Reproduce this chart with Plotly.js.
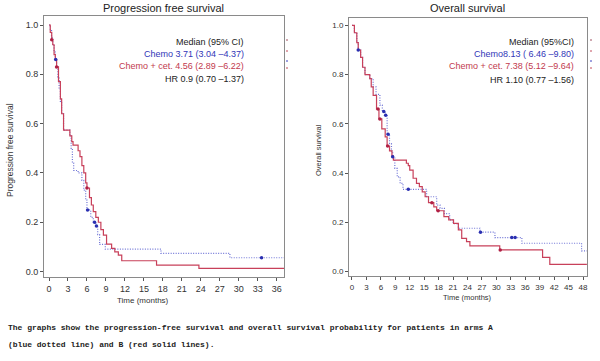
<!DOCTYPE html>
<html>
<head>
<meta charset="utf-8">
<script src="https://cdn.plot.ly/plotly-3.0.1.min.js"></script>
<style>html,body{margin:0;padding:0;background:#fff;}#chart{width:600px;height:361px;}</style>
</head>
<body>
<div id="chart"></div>
<script>
// ---- Progression free survival ----
var pfsChemoT = [0, 0.2, 0.4, 0.6, 0.8, 1.0, 1.2, 1.4, 1.6, 1.8, 2.0, 2.3, 3.3, 3.5, 3.7, 3.9, 4.6, 5.2, 5.5, 5.8, 6.0, 6.6, 7.0, 7.4, 7.7, 8.0, 8.9, 17.7, 28.6, 37.15];
var pfsChemoS = [1.0, 0.98, 0.95, 0.92, 0.89, 0.86, 0.83, 0.79, 0.74, 0.69, 0.64, 0.574, 0.55, 0.50, 0.44, 0.41, 0.40, 0.37, 0.33, 0.29, 0.25, 0.22, 0.20, 0.185, 0.15, 0.11, 0.091, 0.074, 0.056, 0.056];
var pfsCetT = [0, 0.2, 0.43, 0.6, 0.8, 1.0, 1.2, 1.5, 1.8, 2.0, 2.3, 3.3, 3.6, 3.8, 4.6, 4.9, 5.2, 5.5, 5.8, 6.0, 6.4, 6.7, 7.0, 7.4, 7.8, 8.2, 8.6, 9.1, 9.9, 10.4, 10.96, 11.5, 17.0, 23.7, 37.15];
var pfsCetS = [1.0, 0.97, 0.94, 0.92, 0.88, 0.86, 0.83, 0.77, 0.70, 0.64, 0.574, 0.55, 0.527, 0.513, 0.49, 0.466, 0.43, 0.40, 0.36, 0.339, 0.30, 0.27, 0.243, 0.22, 0.20, 0.17, 0.148, 0.111, 0.094, 0.08, 0.067, 0.044, 0.026, 0.013, 0.013];
var pfsChemoCensT = [1.06, 6.1, 7.2, 7.5, 33.6];
var pfsChemoCensS = [0.86, 0.25, 0.20, 0.185, 0.056];
var pfsCetCensT = [0.43, 1.2, 6.0];
var pfsCetCensS = [0.94, 0.83, 0.339];

// ---- Overall survival ----
var osChemoT = [0, 0.5, 1.0, 1.3, 1.8, 2.2, 2.7, 3.7, 4.4, 5.0, 5.8, 6.3, 6.9, 7.3, 7.8, 8.2, 8.45, 8.9, 9.4, 10.0, 10.6, 15.5, 17.6, 18.3, 19.2, 20.3, 21.0, 22.1, 26.6, 29.7, 35.3, 47.7, 48.8];
var osChemoS = [1.0, 0.97, 0.93, 0.90, 0.87, 0.83, 0.80, 0.784, 0.75, 0.72, 0.676, 0.65, 0.635, 0.558, 0.52, 0.49, 0.466, 0.419, 0.385, 0.358, 0.334, 0.304, 0.27, 0.257, 0.235, 0.21, 0.195, 0.176, 0.16, 0.138, 0.115, 0.084, 0.084];
var osCetT = [0, 0.5, 1.0, 1.3, 1.8, 2.2, 2.7, 3.7, 4.0, 4.4, 5.1, 5.6, 6.2, 6.9, 7.3, 7.8, 8.3, 8.6, 11.3, 11.7, 12.0, 12.7, 13.4, 14.0, 14.6, 15.2, 15.9, 17.0, 17.6, 19.1, 20.1, 21.1, 22.1, 22.8, 23.8, 24.5, 30.7, 39.6, 41.1, 48.8];
var osCetS = [1.0, 0.97, 0.93, 0.90, 0.87, 0.83, 0.80, 0.784, 0.75, 0.716, 0.66, 0.62, 0.58, 0.547, 0.51, 0.49, 0.47, 0.453, 0.44, 0.43, 0.412, 0.379, 0.358, 0.345, 0.324, 0.304, 0.28, 0.263, 0.247, 0.223, 0.21, 0.196, 0.169, 0.135, 0.122, 0.104, 0.088, 0.058, 0.029, 0.029];
var osChemoCensT = [1.3, 6.6, 7.0, 7.5, 8.45, 11.7, 26.7, 33.2, 33.9];
var osChemoCensS = [0.90, 0.65, 0.635, 0.558, 0.466, 0.334, 0.16, 0.138, 0.138];
var osCetCensT = [5.4, 5.8, 7.4, 16.6, 17.9, 30.8];
var osCetCensS = [0.66, 0.62, 0.51, 0.28, 0.247, 0.088];

// ---- text ----
var pfsTitle = "Progression free survival";
var osTitle = "Overall survival";
var xTitle = "Time (months)";
var pfsYTitle = "Progression free survival";
var osYTitle = "Overall survival";
var pfsLegend = ["Median (95% CI)", "Chemo 3.71 (3.04 \u20134.37)", "Chemo + cet. 4.56 (2.89 \u20136.22)", "HR 0.9 (0.70 \u20131.37)"];
var osLegend = ["Median (95%CI)", "Chemo8.13 ( 6.46 \u20139.80)", "Chemo + cet. 7.38 (5.12 \u20139.64)", "HR 1.10 (0.77 \u20131.56)"];
var caption = ["The graphs show the progression-free survival and overall survival probability for patients in arms A",
               "(blue dotted line) and B (red solid lines)."];
var pfsTicks = [0, 3, 6, 9, 12, 15, 18, 21, 24, 27, 30, 33, 36];
var osTicks = [0, 3, 6, 9, 12, 15, 18, 21, 24, 27, 30, 33, 36, 39, 42, 45, 48];
var yTicks = [0, 0.2, 0.4, 0.6, 0.8, 1.0];

var BLUE_LINE = "#6f74d6", BLUE_MARK = "#2a2fb0", RED = "#c8405a", RED_MARK = "#b02045";
var W = 600, H = 361;
function px(x){return x / W;}
function py(y){return 1 - y / H;}

function km(t, s, xa, ya, color, dash, width){
  return {x: t, y: s, xaxis: xa, yaxis: ya, type: "scatter", mode: "lines",
          line: {shape: "hv", color: color, dash: dash, width: width}, hoverinfo: "skip", showlegend: false};
}
function cens(t, s, xa, ya, color){
  return {x: t, y: s, xaxis: xa, yaxis: ya, type: "scatter", mode: "markers",
          marker: {color: color, size: 3.5, symbol: "circle"}, hoverinfo: "skip", showlegend: false};
}

var data = [
  km(pfsChemoT, pfsChemoS, "x", "y", BLUE_LINE, "1px,1.5px", 1.2),
  km(pfsCetT, pfsCetS, "x", "y", RED, "solid", 1.2),
  cens(pfsChemoCensT, pfsChemoCensS, "x", "y", BLUE_MARK),
  cens(pfsCetCensT, pfsCetCensS, "x", "y", RED_MARK),
  km(osChemoT, osChemoS, "x2", "y2", BLUE_LINE, "1px,1.5px", 1.2),
  km(osCetT, osCetS, "x2", "y2", RED, "solid", 1.2),
  cens(osChemoCensT, osChemoCensS, "x2", "y2", BLUE_MARK),
  cens(osCetCensT, osCetCensS, "x2", "y2", RED_MARK)
];

function xax(dom, range, ticks, fs){
  return {domain: dom, range: range, tickmode: "array", tickvals: ticks, ticktext: ticks.map(String),
          showgrid: false, zeroline: false, showline: true, mirror: true, linecolor: "#8a8a8a", linewidth: 1,
          ticks: "outside", ticklen: 3, tickcolor: "#555", tickfont: {family: "Liberation Sans, Arial", size: fs, color: "#333"}, fixedrange: true};
}
function yax(dom, range, anchor, fs){
  return {domain: dom, range: range, anchor: anchor, tickmode: "array", tickvals: yTicks, ticktext: yTicks.map(function(v){return v.toFixed(1);}),
          showgrid: false, zeroline: false, showline: true, mirror: true, linecolor: "#8a8a8a", linewidth: 1,
          ticks: "outside", ticklen: 3, tickcolor: "#555", tickfont: {family: "Liberation Sans, Arial", size: fs, color: "#333"}, fixedrange: true};
}

var annotations = [];
function txt(x, y, text, size, color, anchor, angle, family){
  annotations.push({xref: "paper", yref: "paper", x: px(x), y: py(y), text: text, showarrow: false,
    xanchor: anchor || "center", yanchor: "middle", textangle: angle || 0,
    font: {family: family || "Liberation Sans, Arial", size: size, color: color}});
}
txt(163, 8, pfsTitle, 11, "#222");
txt(467, 8, osTitle, 11, "#222");
txt(10, 150, pfsYTitle, 8.5, "#333", "center", -90);
txt(318, 150, osYTitle, 7.5, "#333", "center", -90);
txt(143, 300, xTitle, 8, "#333");
txt(467, 297, xTitle, 7.5, "#333");
var legCols = ["#222", "#3236b8", "#c23a4e", "#222"];
var legY = [42, 54, 66, 78.5];
for (var i = 0; i < 4; i++) {
  txt(246, legY[i], pfsLegend[i], 9, legCols[i], "right");
  txt(576, legY[i] + (i === 3 ? 1 : 0), osLegend[i], 9, legCols[i], "right");
}
txt(6, 327, "<b>" + caption[0] + "</b>", 8, "#222", "left", 0, "Liberation Mono, monospace");
txt(6, 344, "<b>" + caption[1] + "</b>", 8, "#222", "left", 0, "Liberation Mono, monospace");

var shapes = [];
var markY = [40, 51, 61, 68], markC = ["#a05060", "#c04a5a", "#3a40c0", "#c04a5a"];
[286, 590].forEach(function(mx){
  for (var j = 0; j < 4; j++) {
    shapes.push({type: "line", xref: "paper", yref: "paper", x0: px(mx), x1: px(mx + 2), y0: py(markY[j]), y1: py(markY[j]),
                 line: {color: markC[j], width: 1}});
  }
});

var layout = {
  width: W, height: H, margin: {l: 0, r: 0, t: 0, b: 0}, paper_bgcolor: "#fff", plot_bgcolor: "#fff",
  showlegend: false,
  xaxis: xax([px(44), px(284)], [-0.79, 37.15], pfsTicks, 9),
  yaxis: yax([1 - 277 / H, 1 - 16 / H], [-0.022, 1.0365], "x", 9),
  xaxis2: xax([px(349), px(587)], [-0.62, 48.83], osTicks, 8),
  yaxis2: yax([1 - 276 / H, 1 - 18 / H], [-0.018, 1.03], "x2", 8),
  annotations: annotations, shapes: shapes
};
layout.xaxis.anchor = "y";
layout.xaxis2.anchor = "y2";

Plotly.newPlot("chart", data, layout, {displayModeBar: false, staticPlot: true});
</script>
</body>
</html>
